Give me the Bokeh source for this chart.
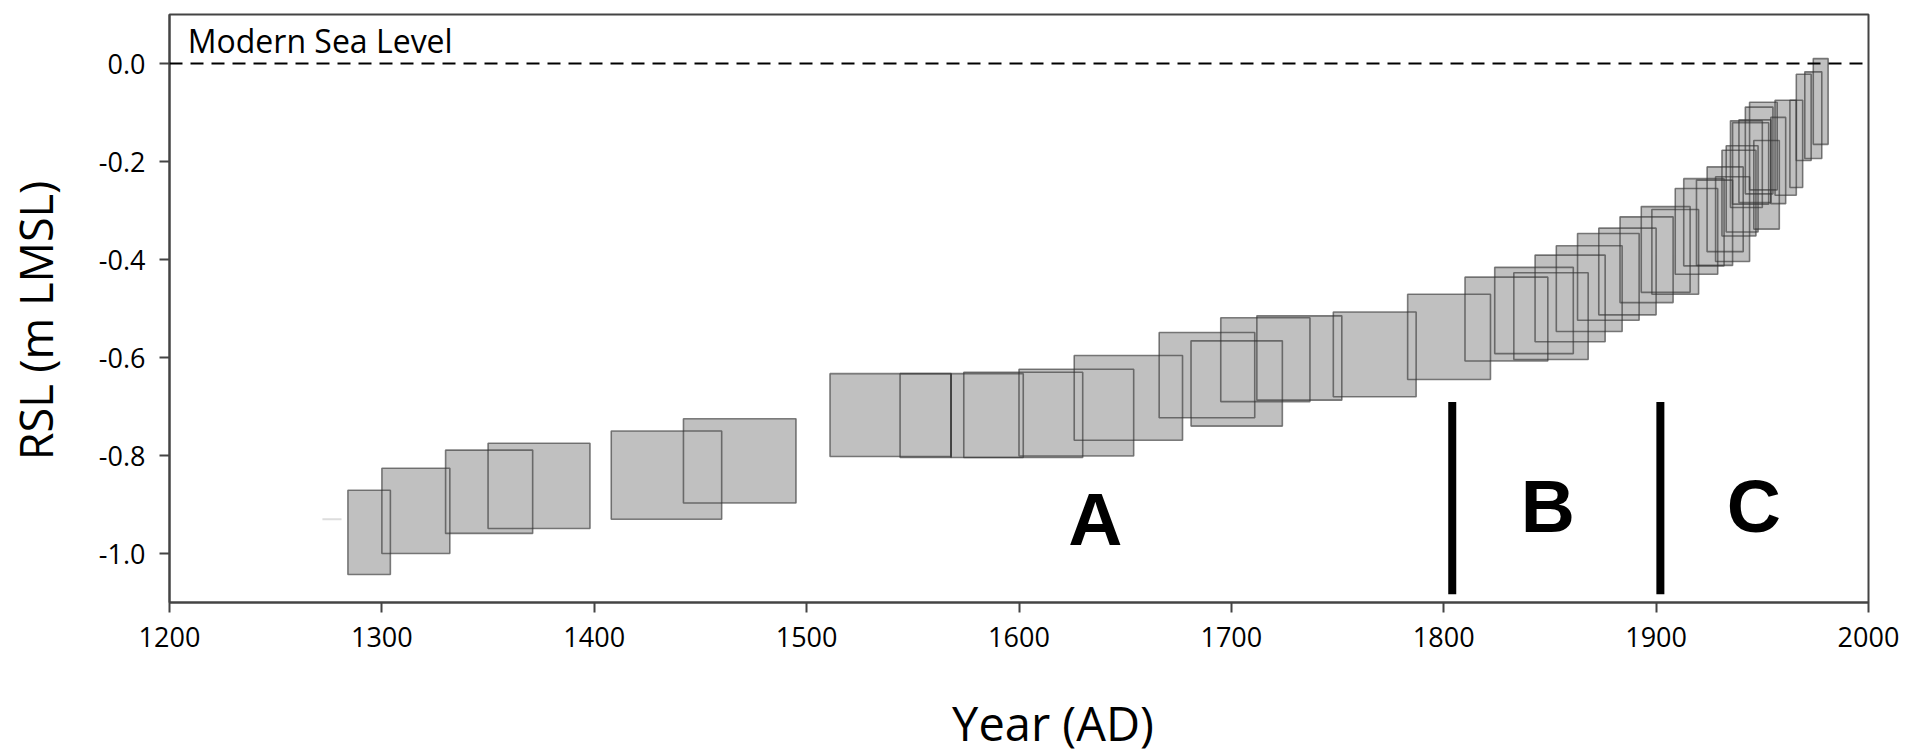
import math
from bokeh.plotting import figure
from bokeh.layouts import row, column
from bokeh.models import ColumnDataSource, FixedTicker, Span, Label
from bokeh.embed import file_html
from bokeh.resources import INLINE
from bokeh.core.properties import value

# ---- data ----
age_start = [1284, 1300, 1330, 1350, 1408, 1442,
             1511, 1544, 1568, 1574, 1600, 1626, 1666, 1681, 1695, 1712,
             1748, 1783, 1810, 1824, 1833, 1843, 1853, 1863, 1873, 1883,
             1893, 1898, 1909, 1913, 1919, 1924, 1928, 1931, 1933, 1935,
             1936, 1939, 1942, 1944, 1946, 1954, 1956, 1963, 1966, 1970, 1974]
age_end = [1304, 1332, 1371, 1398, 1460, 1495,
           1568, 1568, 1602, 1630, 1654, 1677, 1711, 1724, 1737, 1752,
           1787, 1822, 1849, 1861, 1868, 1876, 1884, 1892, 1900, 1908,
           1916, 1920, 1929, 1932, 1936, 1941, 1944, 1947, 1948, 1950,
           1953, 1954, 1955, 1957, 1958, 1961, 1966, 1969, 1973, 1978, 1981]
rsl_top = [-0.871, -0.826, -0.789, -0.775, -0.750, -0.725,
           -0.633, -0.633, -0.633, -0.630, -0.624, -0.596, -0.549, -0.566, -0.519, -0.515,
           -0.507, -0.471, -0.436, -0.416, -0.427, -0.391, -0.372, -0.347, -0.336, -0.313,
           -0.292, -0.298, -0.255, -0.235, -0.238, -0.211, -0.231, -0.177, -0.168, -0.117,
           -0.121, -0.115, -0.089, -0.079, -0.157, -0.110, -0.075, -0.075, -0.022, -0.017, 0.010]
rsl_bottom = [-1.043, -1.000, -0.959, -0.949, -0.930, -0.897,
              -0.802, -0.804, -0.804, -0.804, -0.801, -0.769, -0.723, -0.740, -0.690, -0.687,
              -0.680, -0.645, -0.607, -0.592, -0.604, -0.568, -0.547, -0.524, -0.513, -0.488,
              -0.467, -0.471, -0.430, -0.413, -0.412, -0.384, -0.404, -0.352, -0.344, -0.294,
              -0.287, -0.284, -0.266, -0.258, -0.338, -0.286, -0.269, -0.253, -0.198, -0.194, -0.165]

zone_bounds = [1804, 1902]
zone_line_top = [-0.691, -0.691]
zone_line_bottom = [-1.083, -1.083]
zone_names = ["A", "B", "C"]
zone_name_x = [1636, 1849, 1946]
zone_name_y = [-0.930, -0.903, -0.903]

stray_mark_x = [1272, 1281]
stray_mark_y = [-0.930, -0.930]

x_ticks = [1200, 1300, 1400, 1500, 1600, 1700, 1800, 1900, 2000]
y_ticks = [0.0, -0.2, -0.4, -0.6, -0.8, -1.0]
y_tick_labels = ["0.0", "-0.2", "-0.4", "-0.6", "-0.8", "-1.0"]

x_title = "Year (AD)"
y_title = "RSL (m LMSL)"

FONT = "Open Sans"
LEFT_W = 75
MAIN_W = 1921 - LEFT_W
MAIN_H = 672
BOTTOM_H = 754 - MAIN_H


def bare(fig):
    fig.background_fill_color = "white"
    fig.border_fill_color = "white"
    fig.outline_line_color = None
    fig.grid.visible = False
    return fig


# ---- main plot ----
p = figure(width=MAIN_W, height=MAIN_H, output_backend="svg", toolbar_location=None,
           x_range=(1200, 2000), y_range=(-1.1, 0.1),
           min_border_left=169 - LEFT_W, min_border_right=53,
           min_border_top=14, min_border_bottom=MAIN_H - 602)
p.background_fill_color = "white"
p.border_fill_color = "white"
p.grid.visible = False
p.outline_line_color = "#444444"
p.outline_line_width = 2

src = ColumnDataSource(dict(left=age_start, right=age_end, top=rsl_top, bottom=rsl_bottom))
# fills first, outlines on top of all fills
p.quad(left="left", right="right", top="top", bottom="bottom", source=src,
       fill_color="#c0c0c0", fill_alpha=1.0, line_alpha=0)
p.quad(left="left", right="right", top="top", bottom="bottom", source=src,
       fill_alpha=0, line_color="#333333", line_alpha=0.62, line_width=1.6)

p.line(x=stray_mark_x, y=stray_mark_y, line_color="#dddddd", line_width=2)

# modern sea level
p.add_layout(Span(location=0, dimension="width", line_color="black",
                  line_width=2, line_dash="13 8"))
p.add_layout(Label(x=1208.6, y=0.003, text="Modern Sea Level", text_font=FONT,
                   text_font_size="32px", text_color="black", text_baseline="bottom"))

# zone boundaries
p.segment(x0=zone_bounds, x1=zone_bounds, y0=zone_line_top, y1=zone_line_bottom,
          line_color="black", line_width=8)
p.text(x=zone_name_x, y=zone_name_y, text=zone_names, text_font=value("Liberation Sans"),
       text_font_style="bold", text_font_size="75px", text_align="center",
       text_baseline="middle", text_color="black")

for ax in (p.xaxis[0], p.yaxis[0]):
    ax.axis_line_color = "#444444"
    ax.axis_line_width = 2
    ax.major_tick_line_color = "#444444"
    ax.major_tick_line_width = 2
    ax.major_tick_out = 10
    ax.major_tick_in = 0
    ax.minor_tick_line_color = None
    ax.major_label_text_font = FONT
    ax.major_label_text_font_size = "27px"
    ax.major_label_text_color = "black"

p.xaxis.ticker = FixedTicker(ticks=x_ticks)
p.yaxis.ticker = FixedTicker(ticks=y_ticks)
p.yaxis.major_label_overrides = {t: l for t, l in zip(y_ticks, y_tick_labels)}
p.xaxis.major_label_standoff = 14
p.yaxis.major_label_standoff = 14

# ---- left strip with the y-axis title ----
pl = bare(figure(width=LEFT_W, height=754, output_backend="svg", toolbar_location=None,
                 x_range=(0, LEFT_W), y_range=(0, 754), x_axis_type=None, y_axis_type=None,
                 min_border_left=0, min_border_right=0, min_border_top=0, min_border_bottom=0))
pl.text(x=[35], y=[754 - 320], text=[y_title], angle=math.pi / 2,
        text_font=value(FONT), text_font_size="45px", text_align="center",
        text_baseline="middle", text_color="black")

# ---- bottom strip with the x-axis title ----
pb = bare(figure(width=MAIN_W, height=BOTTOM_H, output_backend="svg", toolbar_location=None,
                 x_range=p.x_range, y_range=(0, BOTTOM_H), x_axis_type=None, y_axis_type=None,
                 min_border_left=169 - LEFT_W, min_border_right=53,
                 min_border_top=0, min_border_bottom=0))
pb.text(x=[1616], y=[32], text=[x_title],
        text_font=value(FONT), text_font_size="47px", text_align="center",
        text_baseline="alphabetic", text_color="black")

layout = row(pl, column(p, pb, spacing=0), spacing=0)
open("out.html", "w").write(file_html(layout, INLINE))
